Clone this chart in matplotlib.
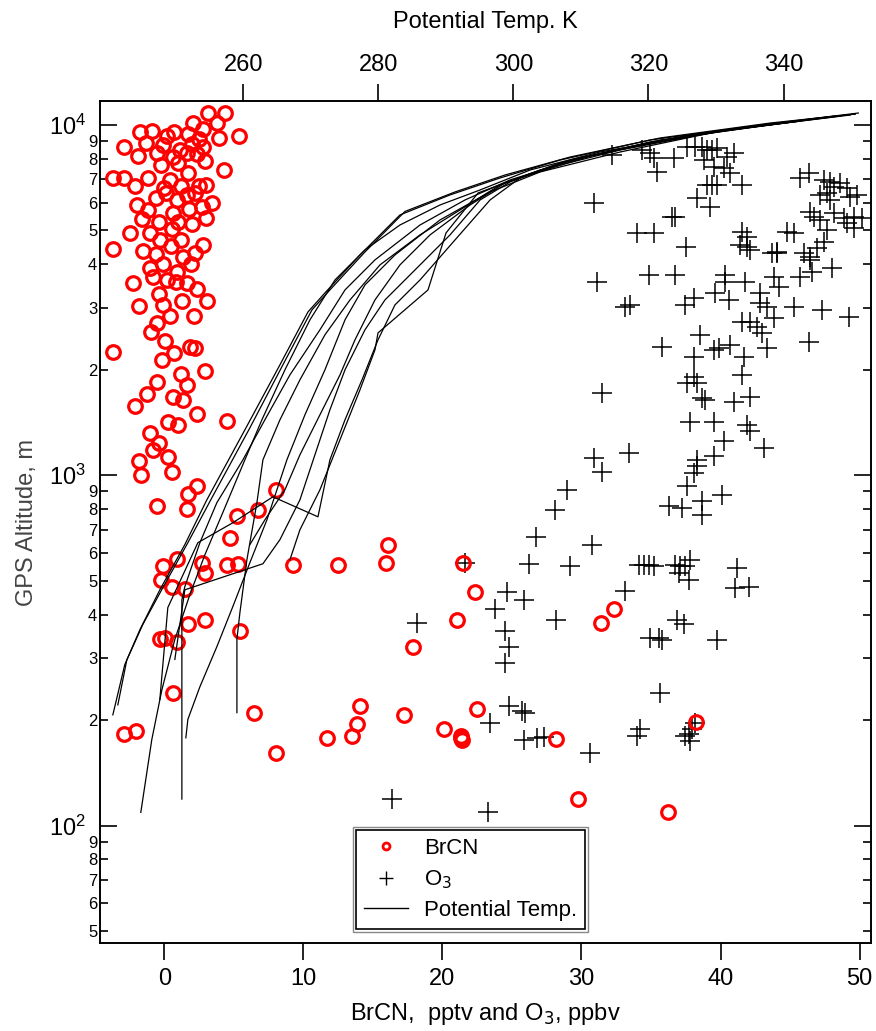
import matplotlib
matplotlib.use("Agg")
import matplotlib.pyplot as plt
from matplotlib.lines import Line2D
from matplotlib.patches import Rectangle
from matplotlib.ticker import FixedLocator, FuncFormatter, NullLocator
import numpy as np

plt.rcParams['font.family'] = ['Liberation Sans', 'DejaVu Sans']

# ---------------- data ----------------
brcn_x = [3.17, 4.37, 2.09, 3.81, -1.75, -0.91, 0.70, 1.73, 2.76, 5.40, 3.96, -2.90, -1.87, -0.12, 0.60,
          1.61, 2.33, 2.81, 4.29, -3.67, -2.90, -2.11, -1.15, -0.26, 0.41, 1.73, 2.47, 3.00, 0.12, 1.65,
          -1.99, -1.15, 0.65, 1.80, 2.69, 3.41, 3.00, -2.47, -1.03, 0.53, 1.20, 2.76, -3.67, -1.55, -0.60,
          1.32, -0.07, 2.21, -1.03, -0.79, 0.84, 1.65, 2.37, -2.23,
          -1.3, 0.2, 1.1, 2.0, 2.5, -0.5, 1.0, 2.9, 0.0, 1.2, -0.6, 0.9, 2.2, -1.6, -0.4, 1.0, 2.0, -0.3,
          0.5, 1.9, 0.2, -0.4, 0.9,
          -1.80, -0.12, 1.25, 3.05, 0.41, 2.14, -0.50, -0.98, 0.05, 1.85, 2.21, 0.70, -0.19, -3.67, 2.93,
          1.18, 1.65, -0.50, -1.27, 0.60, 1.32, -2.11, 2.33, 4.49, 0.29, 1.01, -1.03, -0.36, -0.79, 0.29,
          -1.80, -1.70, 0.53, 2.37, 1.73,
          -0.50, 1.61, 8.04, 5.25, 6.72, 4.73, 16.1, 0.89, -0.12, 2.69, 2.93, 4.49, 5.32, 9.24, 12.52,
          15.95, 21.5, -0.26, 0.53, 1.49, 22.35, 1.73, 2.93, 5.45, -0.31, 0.05, 0.89, 21.04, 17.91, 0.65,
          6.45, -2.90, -2.04, 14.08, 13.84, 13.53, 11.68, 17.24, 20.14, 21.35, 21.4, 22.47, 8.04, 32.37,
          31.42, 28.16, 38.25, 29.74, 36.19, 21.3]
brcn_alt = [10800, 10800, 10150, 10140, 9530, 9640, 9530, 9410, 9740, 9320, 9200, 8670, 8160, 8770, 8090,
            8340, 8270, 8670, 7440, 7075, 7075, 6700, 7075, 7690, 6970, 7280, 6710, 6730, 6410, 6310,
            5910, 5710, 5590, 5760, 5820, 5980, 5420, 4930, 4930, 5040, 4700, 4530, 4420, 4370, 4280,
            4210, 4010, 4300, 3900, 3690, 3570, 3550, 3400, 3550,
            8900, 9300, 8500, 8800, 9100, 8300, 7800, 7900, 6600, 6700, 6200, 6100, 6400, 5400, 5300, 5300,
            5200, 4700, 4500, 4000, 3600, 3300, 3800,
            3050, 3060, 3150, 3150, 2840, 2840, 2730, 2570, 2410, 2330, 2310, 2230, 2140, 2250, 1980,
            1940, 1810, 1850, 1710, 1670, 1640, 1580, 1500, 1430, 1415, 1390, 1320, 1240, 1180, 1130,
            1100, 1000, 1020, 933, 885,
            815, 803, 909, 766, 797, 664, 633, 577, 549, 562, 526, 555, 559, 553, 553,
            562, 562, 503, 480, 473, 463, 375, 387, 360, 340, 343, 334, 387, 323, 239,
            210, 182, 186, 220, 195, 180, 178, 207, 189, 180, 176, 215, 161, 416,
            379, 177, 198, 119, 109, 178]

o3_x = [32.19, 34.35, 34.94, 35.18, 35.42, 36.62, 37.58, 38.18, 38.66, 39.02, 39.38, 39.74, 38.78, 39.50,
        40.22, 40.46, 40.94, 40.70, 39.38, 39.02, 39.74, 41.54, 38.30, 39.26, 30.87, 36.50, 36.74, 33.99,
        35.18, 37.53, 34.82, 36.74, 31.11, 33.15, 33.51, 37.46, 38.06, 39.62, 40.34, 40.34, 40.58, 41.78,
        41.54, 41.90, 41.90, 42.14, 41.42, 43.70, 44.06, 44.78, 45.26, 45.98, 46.46, 43.82, 44.18, 45.74,
        46.58, 48.01, 42.86, 42.86, 43.34, 45.26, 43.82, 41.54, 42.14, 42.62, 42.98, 47.29, 49.21, 46.34,
        35.78, 38.54, 39.50, 39.86, 40.70, 41.66, 43.34, 38.06, 41.54, 38.06, 37.58, 38.30, 38.66, 38.90,
        40.94, 42.14, 41.90, 42.14, 37.82, 39.50, 40.22, 43.10, 39.50, 38.30, 38.30, 38.06, 31.47, 30.87,
        33.39, 31.47,
        45.74, 46.34, 47.42, 47.89, 48.13, 48.61, 49.09, 49.81, 47.18, 47.66, 47.89, 49.33, 46.46, 46.70,
        47.18, 48.13, 48.85, 49.57, 50.17, 49.09, 47.66, 47.42, 46.94, 46.46, 44.06, 49.57,
        28.95, 28.11, 26.72, 30.75, 26.19, 29.19, 21.63, 34.10, 34.46, 34.82, 35.18, 36.74, 37.10, 37.46,
        37.82, 36.98, 37.70, 41.18, 41.06, 42.02, 33.15, 24.63, 25.83, 23.79, 18.16, 28.18, 24.51, 24.75,
        24.51, 36.86, 37.34, 34.94, 35.54, 35.78, 39.74, 35.66, 24.75, 25.71, 25.95, 23.43, 25.83, 26.79,
        27.27, 30.63, 34.22, 33.98, 37.70, 37.94, 38.18, 37.46, 37.82, 16.36, 23.31, 37.58, 40.10, 36.26,
        37.22, 38.66, 38.66]
o3_alt = [8210, 8485, 8300, 8030, 7360, 8030, 8675, 8675, 8675, 8485, 8485, 8580, 7945, 7605,
          7520, 8120, 8300, 7280, 6744, 6744, 6744, 6744, 6178, 5848, 5976, 5475, 5475, 4909,
          4909, 4497, 3733, 3733, 3573, 3032, 3065, 3065, 3202, 3323, 3733, 3573, 3167, 3573,
          4963, 4801, 4497, 4400, 4546, 4304, 4304, 4963, 4909, 4304, 4210, 3692, 3457, 3692,
          3815, 3899, 3308, 3099, 3032, 3032, 2808, 2748, 2748, 2659, 2544, 2966, 2839, 2409,
          2331, 2517, 2280, 2306, 2357, 2183, 2306, 2183, 1935, 1914, 1832, 1832, 1660, 1642,
          1624, 1678, 1393, 1334, 1424, 1424, 1249, 1195, 1132, 1107, 1060, 1014, 1715, 1119,
          1157, 1025,
          7045, 7280, 6966, 6890, 6668, 6816, 6597, 6315, 6315, 6383, 6110, 6245, 5658, 5475,
          5358, 5598, 5416, 5475, 5416, 5240, 5017, 4647, 4449, 4120, 4352, 5072,
          909, 794, 665, 634, 559, 552, 562, 555, 555, 555, 552, 555, 552, 550,
          574, 526, 503, 545, 476, 480, 468, 463, 441, 416, 379, 387, 360, 323,
          291, 387, 375, 343, 343, 339, 339, 239, 220, 212, 210, 196, 175, 178,
          179, 161, 189, 180, 182, 189, 196, 180, 174, 119, 109, 929, 880, 815,
          806, 842, 772]

# potential temperature profiles (K) vs altitude (m)
theta_1 = [240.70, 242.47, 244.70, 247.66, 251.36, 254.62, 260.25, 265.44, 269.59, 272.10, 277.29, 283.21,
           290.62, 298.03, 306.92, 320.25, 336.55, 351.07]
alt_1 = [207, 288, 362, 471, 634, 851, 1348, 2067, 2927, 3316, 4257, 5537, 6315, 7061, 7945, 9063, 10000, 10820]
theta_2 = [241.44, 242.77, 245.14, 248.11, 251.81, 255.37, 260.99, 266.03, 270.18, 272.84, 278.03, 283.95,
           291.36, 298.77, 308.40, 321.73, 338.03, 350.62]
alt_2 = [221, 297, 375, 478, 642, 863, 1366, 2094, 2966, 3382, 4341, 5665, 6440, 7200, 8103, 9183, 10132, 10750]
theta_3 = [244.84, 246.47, 247.96, 249.88, 252.10, 254.33, 256.84, 260.25, 262.77, 266.18, 269.88, 273.59,
           278.03, 283.21, 289.14, 295.07, 302.47, 312.84, 327.66, 345.44]
alt_3 = [109, 176, 244, 340, 456, 593, 771, 1107, 1440, 2000, 2778, 3612, 4400, 5183, 5912, 6525, 7440,
         8375, 9425, 10471]
theta_4 = [250.92, 250.92, 250.92, 251.36, 253.59, 256.10, 259.96, 263.21, 266.92, 271.36, 275.07, 279.51,
           286.18, 292.84, 299.51, 309.88, 324.70, 342.47]
alt_4 = [119, 229, 441, 481, 642, 835, 1107, 1440, 1935, 2602, 3382, 4120, 5183, 6110, 6969, 8050, 9243, 10265]
theta_5 = [251.51, 251.81, 253.59, 256.10, 258.47, 260.99, 263.51, 266.47, 269.14, 272.10, 275.07, 278.03,
           282.47, 289.14, 296.55, 303.95, 315.81, 330.62, 348.40]
alt_5 = [178, 201, 249, 324, 422, 563, 746, 1107, 1488, 2000, 2778, 3495, 4257, 5358, 6440, 7344, 8375,
         9613, 10608]
theta_6 = [259.07, 259.07, 259.51, 260.55, 262.03, 262.92, 265.44, 268.40, 272.10, 275.81, 280.25, 286.18,
           292.10, 298.03, 306.92, 320.25, 336.55, 349.88]
alt_6 = [210, 340, 405, 574, 835, 1107, 1440, 1873, 2517, 3167, 3987, 4856, 5721, 6744, 7791, 8944, 9934, 10680]
theta_7 = [247.66, 248.84, 253.29, 258.47, 264.40, 271.07, 272.84, 275.07, 277.59, 279.96, 282.47, 286.18,
           291.36, 296.55, 300.99, 311.36, 326.18, 342.47]
alt_7 = [229, 419, 642, 732, 868, 761, 1107, 1440, 1873, 2436, 3065, 3612, 4698, 6110, 7061, 8157, 9364, 10265]
theta_8 = [249.88, 251.36, 262.92, 265.44, 268.40, 270.62, 272.84, 275.07, 278.03, 280.99, 286.18, 290.62,
           295.07, 299.51, 308.40, 321.73, 338.03, 350.62]
alt_8 = [298, 471, 559, 655, 851, 1144, 1538, 2000, 2602, 3167, 3987, 4856, 6110, 6878, 7945, 9063, 10067, 10750]
theta_9 = [266.92, 268.40, 271.36, 274.33, 277.29, 279.51, 279.96, 287.36, 290.03, 294.77, 303.95, 315.81,
           330.62, 346.92]
alt_9 = [574, 699, 909, 1263, 1754, 2281, 2550, 3382, 4920, 6397, 7440, 8486, 9613, 10540]
theta_10 = [260.99, 263.21, 266.18, 268.40, 271.36, 274.33, 276.55, 279.51, 283.21, 287.66, 293.59, 298.77,
            306.92, 318.77, 333.59, 347.62]
alt_10 = [634, 746, 909, 1144, 1488, 1935, 2436, 3167, 3987, 4856, 5912, 6833, 7791, 8770, 9804, 10608]

theta_profiles = [theta_1, theta_2, theta_3, theta_4, theta_5, theta_6, theta_7, theta_8, theta_9, theta_10]
alt_profiles = [alt_1, alt_2, alt_3, alt_4, alt_5, alt_6, alt_7, alt_8, alt_9, alt_10]

x_ticks = [0, 10, 20, 30, 40, 50]
theta_ticks = [260, 280, 300, 320, 340]
y_major = [100, 1000, 10000]
y_major_labels = [r'$\mathregular{10^{2}}$', r'$\mathregular{10^{3}}$', r'$\mathregular{10^{4}}$']

# ---------------- figure ----------------
W, H = 876, 1031
fig = plt.figure(figsize=(W / 100, H / 100), dpi=100)
ax = fig.add_axes([100 / W, 1 - 943 / H, 770.7 / W, 842 / H])
ax.set_yscale('log')
ax.set_xlim(-4.63, 50.8)
ax.set_ylim(46.2, 11710)

ax2 = ax.twiny()
ax2.set_xlim(238.8, 352.9)

# BrCN
ax.plot(brcn_x, brcn_alt, 'o', ms=9.8, mfc='none', mec='#ff0000', mew=2.3, ls='none', zorder=3)
# O3
ax.plot(o3_x, o3_alt, '+', ms=14.5, color='black', mew=1.1, ls='none', zorder=2)
# Potential temperature
for th, al in zip(theta_profiles, alt_profiles):
    ax2.plot(th, al, color='black', lw=0.9)

# spines
for a in (ax, ax2):
    for s in a.spines.values():
        s.set_linewidth(1.2)

# x ticks
ax.xaxis.set_major_locator(FixedLocator(x_ticks))
ax.xaxis.set_minor_locator(NullLocator())
ax.tick_params(axis='x', which='major', direction='out', length=12, width=1.2, labelsize=17, pad=6,
               top=False)
ax2.xaxis.set_major_locator(FixedLocator(theta_ticks))
ax2.xaxis.set_minor_locator(NullLocator())
ax2.tick_params(axis='x', which='major', direction='out', length=12, width=1.2, labelsize=17, pad=6)

# y ticks
ax.yaxis.set_major_locator(FixedLocator(y_major))
ax.set_yticklabels(y_major_labels)
minors = [m * 10 ** d for d in (1, 2, 3) for m in range(2, 10)]
minors = [v for v in minors if 46.2 <= v <= 11710]
ax.yaxis.set_minor_locator(FixedLocator(minors))
ax.yaxis.set_minor_formatter(FuncFormatter(lambda v, p: '%d' % round(v / 10 ** np.floor(np.log10(v) + 1e-9))))
ax.tick_params(axis='y', which='major', direction='in', length=12, width=1.2, labelsize=17, pad=10,
               right=True)
ax.tick_params(axis='y', which='minor', direction='in', length=6, width=1.2, labelsize=12, pad=2,
               right=True)

# labels
ax2.set_xlabel('Potential Temp. K', fontsize=17, labelpad=19)
ax.set_xlabel('BrCN,  pptv and O$_3$, ppbv', fontsize=17, labelpad=8)
ax.set_ylabel('GPS Altitude, m', fontsize=17, color='#444444', labelpad=8)

# legend
handles = [Line2D([], [], marker='o', ms=5, mfc='none', mec='#ff0000', mew=2.0, ls='none'),
           Line2D([], [], marker='+', ms=10, color='black', mew=1.0, ls='none'),
           Line2D([], [], color='black', lw=1.0)]
leg = ax.legend(handles, ['BrCN', 'O$_3$', 'Potential Temp.'], loc='upper left',
                bbox_to_anchor=(0.332, 0.134), borderaxespad=0, fontsize=16, frameon=True,
                fancybox=False, edgecolor='black', framealpha=1, handlelength=2.0,
                handletextpad=0.7, labelspacing=0.42, borderpad=0.35)
leg.get_frame().set_linewidth(1.2)

fig.canvas.draw()
bb = leg.get_window_extent()
fig.patches.append(Rectangle((bb.x0 - 3, bb.y0 - 3), bb.width + 6, bb.height + 6,
                             transform=None, fill=False, edgecolor='#888888', lw=1.0))

fig.savefig('out.png', dpi=100)
